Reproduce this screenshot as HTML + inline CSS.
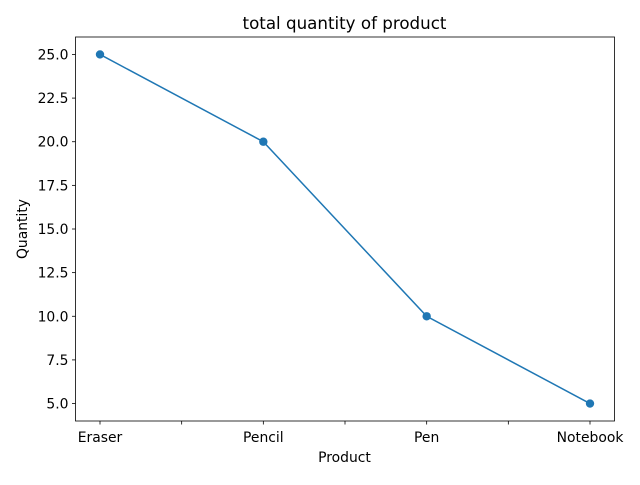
<!DOCTYPE html>
<html><head><meta charset="utf-8"><style>
body{margin:0;background:#fff;}
svg text{font-family:"DejaVu Sans","Liberation Sans",sans-serif;}
</style></head><body>
<svg id="chart" width="640" height="480" xmlns="http://www.w3.org/2000/svg">
<rect width="640" height="480" fill="#fff"/>
<text x="344.5" y="29" font-size="16.7" text-anchor="middle">total quantity of product</text>
<text x="344.5" y="462" font-size="13.9" text-anchor="middle">Product</text>
<text transform="translate(27,229) rotate(-90)" font-size="13.9" text-anchor="middle">Quantity</text>
<g id="plot"></g>
</svg>
<script>
const categories=["Eraser","Pencil","Pen","Notebook"];
const values=[25,20,10,5];
const yTicks=[5.0,7.5,10.0,12.5,15.0,17.5,20.0,22.5,25.0];
const L=75.5,R=614.5,T=37,B=421;
const xMin=-0.15,xMax=3.15,yMin=4,yMax=26;
const sx=i=>L+(i-xMin)/(xMax-xMin)*(R-L);
const sy=v=>B-(v-yMin)/(yMax-yMin)*(B-T);
const NS="http://www.w3.org/2000/svg";
const g=document.getElementById('plot');
function mk(t,a,p){const e=document.createElementNS(NS,t);for(const k in a)e.setAttribute(k,a[k]);(p||g).appendChild(e);return e;}
yTicks.forEach(v=>{
  const y=sy(v);
  const tk=mk('line',{x1:L-3.5,x2:L,y1:y,y2:y,stroke:'#000','stroke-width':0.8});
  
  
  const t=mk('text',{x:L-7,y:y+5,'font-size':13.9,'text-anchor':'end'});
  t.textContent=v.toFixed(1);
  
  
});
categories.forEach((c,i)=>{
  const x=sx(i);
  const tk=mk('line',{x1:x,x2:x,y1:B,y2:B+3.5,stroke:'#000','stroke-width':0.8});
  
  
  const t=mk('text',{x:x,y:B+21,'font-size':13.9,'text-anchor':'middle'});
  t.textContent=c;
  
  
  if(i<categories.length-1){
    const m=sx(i+0.5);
    const mt=mk('line',{x1:m,x2:m,y1:B,y2:B+3.5,stroke:'#000','stroke-width':0.8});
    
    
  }
});
const line=mk('polyline',{points:values.map((v,i)=>sx(i)+','+sy(v)).join(' '),fill:'none',stroke:'#1f77b4','stroke-width':1.5});


values.forEach((v,i)=>{
  const c=mk('circle',{cx:sx(i),cy:sy(v),r:4.2,fill:'#1f77b4'});
  
  
});
const fr=mk('rect',{x:L,y:T,width:R-L,height:B-T,fill:'none',stroke:'#000','stroke-width':0.8});


</script>
</body></html>
